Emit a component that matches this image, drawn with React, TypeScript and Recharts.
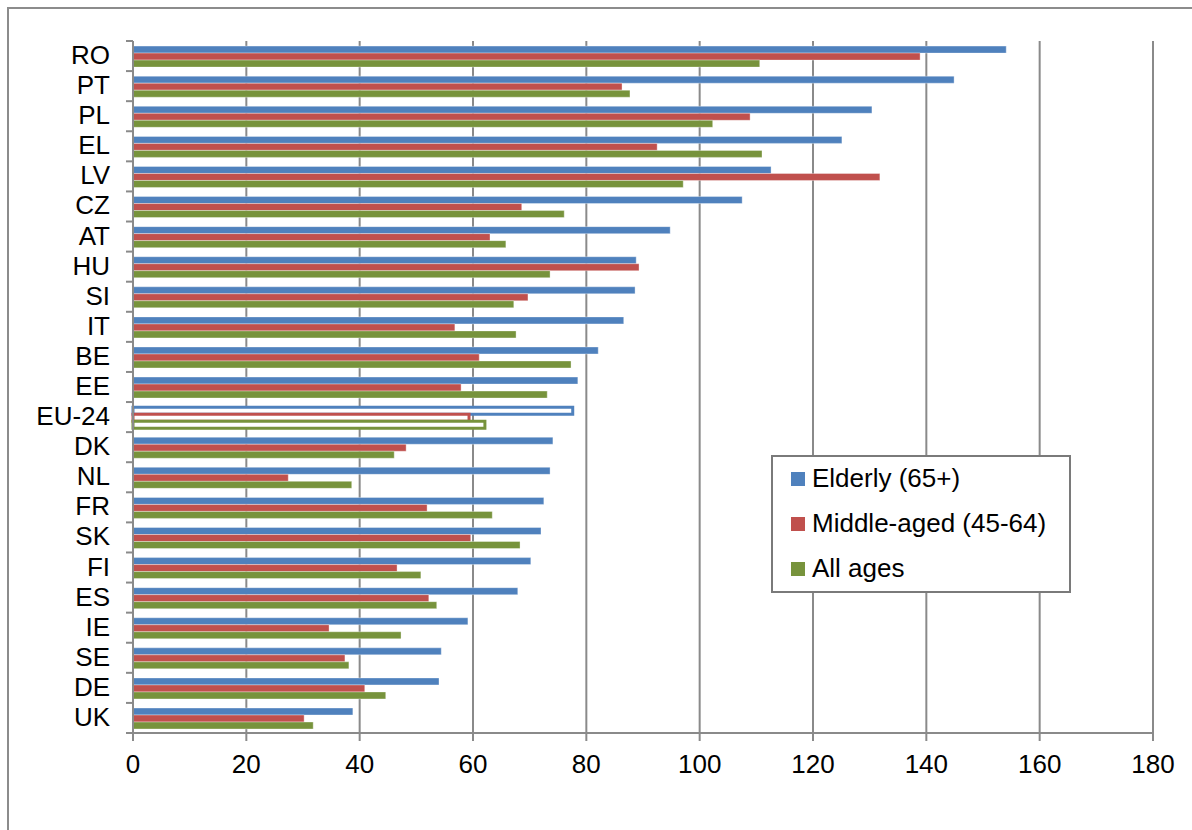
import React from 'react';
import { BarChart, Bar, XAxis, YAxis, CartesianGrid, Cell } from 'recharts';

const categories = ['RO', 'PT', 'PL', 'EL', 'LV', 'CZ', 'AT', 'HU', 'SI', 'IT', 'BE', 'EE', 'EU-24', 'DK', 'NL', 'FR', 'SK', 'FI', 'ES', 'IE', 'SE', 'DE', 'UK'];
const elderly = [154.1, 144.9, 130.4, 125.1, 112.6, 107.5, 94.8, 88.8, 88.6, 86.6, 82.1, 78.5, 77.6, 74.1, 73.6, 72.5, 72.0, 70.2, 67.9, 59.1, 54.4, 54.0, 38.8];
const middleAged = [138.9, 86.3, 108.9, 92.5, 131.8, 68.6, 63.0, 89.3, 69.7, 56.8, 61.1, 57.9, 59.3, 48.2, 27.4, 51.9, 59.6, 46.6, 52.2, 34.6, 37.4, 40.9, 30.2];
const allAges = [110.6, 87.7, 102.3, 111.0, 97.1, 76.1, 65.8, 73.6, 67.2, 67.6, 77.3, 73.1, 62.1, 46.1, 38.6, 63.4, 68.3, 50.8, 53.6, 47.3, 38.1, 44.6, 31.8];
const xTicks = [0, 20, 40, 60, 80, 100, 120, 140, 160, 180];

const seriesKeys = ['elderly', 'middle', 'all'];
const seriesNames = ['Elderly (65+)', 'Middle-aged (45-64)', 'All ages'];
const seriesColors = ['#4F81BD', '#C0504D', '#77933C'];
const highlighted = 'EU-24';

const data = categories.map((name, i) => ({
  name,
  elderly: elderly[i],
  middle: middleAged[i],
  all: allAges[i],
}));

// layout
const W = 1192;
const H = 830;
const PLOT_LEFT = 133;
const PLOT_TOP = 41;
const PLOT_RIGHT = 1153;
const PLOT_BOTTOM = 733;
const BAND = (PLOT_BOTTOM - PLOT_TOP) / categories.length;
const FONT = '"Liberation Sans", Arial, sans-serif';
const GRID = '#8a8a8a';

function YTick(props: any) {
  const { y, payload, index } = props;
  const last = index === categories.length - 1;
  return (
    <g>
      <line x1={PLOT_LEFT - 7} x2={PLOT_LEFT} y1={y - BAND / 2} y2={y - BAND / 2} stroke={GRID} strokeWidth={2} />
      {last && <line x1={PLOT_LEFT - 7} x2={PLOT_LEFT} y1={y + BAND / 2} y2={y + BAND / 2} stroke={GRID} strokeWidth={2} />}
      <text x={PLOT_LEFT - 23} y={y - 1} textAnchor="end" dominantBaseline="central" fontSize={26} fill="#000" fontFamily={FONT}>
        {payload.value}
      </text>
    </g>
  );
}

function LegendBox() {
  return (
    <div
      style={{
        position: 'absolute',
        left: 771,
        top: 455,
        width: 300,
        height: 138,
        border: '2px solid #7a7a7a',
        background: '#fff',
        boxSizing: 'border-box',
        padding: '0 0 0 18px',
        fontFamily: FONT,
        fontSize: 26,
        color: '#000',
      }}
    >
      {seriesNames.map((n, i) => (
        <div key={n} style={{ display: 'flex', alignItems: 'center', height: 45, marginTop: i === 0 ? -1 : 0 }}>
          <span style={{ width: 14, height: 14, background: seriesColors[i], marginRight: 7, display: 'inline-block' }} />
          <span>{n}</span>
        </div>
      ))}
    </div>
  );
}

export default function App() {
  return (
    <div style={{ position: 'absolute', left: 0, top: 0, width: W, height: H, background: '#fff', overflow: 'hidden' }}>
      <div
        style={{
          position: 'absolute',
          left: 7,
          top: 7,
          width: W + 20,
          height: H + 20,
          borderLeft: '2px solid #8c8c8c',
          borderTop: '2px solid #8c8c8c',
        }}
      />
      <div style={{ position: 'absolute', left: 0, top: 0 }}>
        <BarChart
          width={W}
          height={H}
          data={data}
          layout="vertical"
          margin={{ top: PLOT_TOP, right: W - PLOT_RIGHT, bottom: H - PLOT_BOTTOM - 50, left: PLOT_LEFT - 120 }}
          barCategoryGap="17%"
          barGap={0}
        >
          <CartesianGrid horizontal={false} stroke={GRID} strokeWidth={2} />
          <XAxis
            type="number"
            domain={[0, 180]}
            ticks={xTicks}
            interval={0}
            height={50}
            axisLine={{ stroke: GRID, strokeWidth: 2 }}
            tickLine={{ stroke: GRID, strokeWidth: 2 }}
            tickSize={8}
            tickMargin={14}
            tick={{ fontSize: 26, fill: '#000', fontFamily: FONT }}
          />
          <XAxis
            xAxisId="top"
            orientation="top"
            type="number"
            domain={[0, 180]}
            height={0}
            tick={false}
            tickLine={false}
            axisLine={{ stroke: GRID, strokeWidth: 2 }}
          />
          <YAxis
            type="category"
            dataKey="name"
            width={120}
            interval={0}
            tickLine={false}
            axisLine={{ stroke: GRID, strokeWidth: 2 }}
            tick={<YTick />}
          />
          {seriesKeys.map((k, si) => (
            <Bar key={k} dataKey={k} name={seriesNames[si]} fill={seriesColors[si]} isAnimationActive={false}>
              {data.map((d) =>
                d.name === highlighted ? (
                  <Cell key={d.name} fill="#fff" stroke={seriesColors[si]} strokeWidth={3} />
                ) : (
                  <Cell key={d.name} fill={seriesColors[si]} stroke="rgba(255,255,255,0.35)" strokeWidth={1} />
                )
              )}
            </Bar>
          ))}
        </BarChart>
      </div>
      <LegendBox />
    </div>
  );
}
